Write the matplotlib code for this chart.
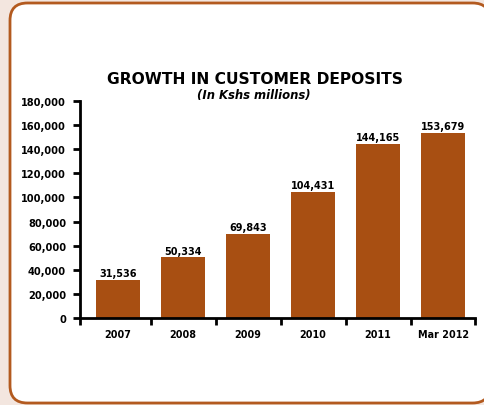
import matplotlib.pyplot as plt
from matplotlib.patches import FancyBboxPatch
from matplotlib.ticker import FuncFormatter, FixedLocator
import numpy as np

# deposits, Kshs millions
periods = ['2007', '2008', '2009', '2010', '2011', 'Mar 2012']
deposits = [31536, 50334, 69843, 104431, 144165, 153679]

W, H = 484, 406
fig = plt.figure(figsize=(W/100, H/100), dpi=100)
fig.patch.set_facecolor('#F3E6DF')

# rounded white panel with brown border
panel = FancyBboxPatch((10/W, 1-404/H), 480/W, 400/H,
                       boxstyle='round,pad=0,rounding_size=0.036',
                       transform=fig.transFigure, facecolor='white',
                       edgecolor='#B35A1F', linewidth=2, mutation_aspect=W/H,
                       zorder=-10)
fig.patches.append(panel)

ax = fig.add_axes([80/W, 1-319/H, 395/W, 217/H])
ax.set_facecolor('none')

x = np.arange(len(periods))
bar_color = '#A84F12'
ax.bar(x, deposits, width=0.68, color=bar_color)

for xi, v in zip(x, deposits):
    ax.text(xi, v + 1500, f'{v:,}', ha='center', va='bottom',
            fontsize=7, fontweight='bold', color='black')

left, right = -0.585, 5.49
ax.set_xlim(left, right)
ax.set_ylim(0, 180000)
ax.set_yticks(np.arange(0, 180001, 20000))
ax.yaxis.set_major_formatter(FuncFormatter(lambda v, p: f'{int(v):,}'))

ax.set_xticks(x)
ax.set_xticklabels(periods)
ax.xaxis.set_minor_locator(FixedLocator([left] + list(x[:-1] + 0.5) + [right]))
ax.tick_params(axis='x', which='major', length=0, pad=8)
ax.tick_params(axis='x', which='minor', direction='out', length=5, width=2)
ax.tick_params(axis='y', direction='out', length=5, width=2, pad=5)
for lab in ax.get_xticklabels():
    lab.set_fontsize(6.9)
    lab.set_fontweight('bold')
for lab in ax.get_yticklabels():
    lab.set_fontsize(7.1)
    lab.set_fontweight('bold')

for s in ['top', 'right']:
    ax.spines[s].set_visible(False)
ax.spines['left'].set_linewidth(2)
ax.spines['bottom'].set_linewidth(2)

fig.text(255/W, 1-80/H, 'GROWTH IN CUSTOMER DEPOSITS', ha='center', va='center',
         fontsize=11.2, fontweight='bold')
fig.text(254/W, 1-95/H, '(In Kshs millions)', ha='center', va='center',
         fontsize=8.4, fontweight='bold', style='italic')

fig.savefig('out.png', dpi=100, facecolor=fig.get_facecolor())
